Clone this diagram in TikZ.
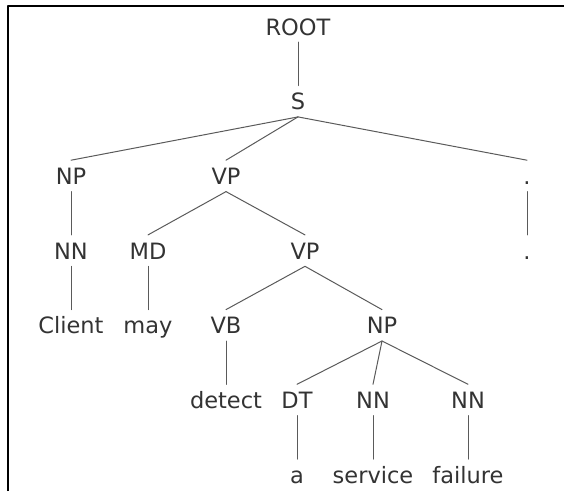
\documentclass[tikz,border=0pt]{standalone}
\usepackage{fontspec}
\setmainfont{DejaVu Sans}
\providecommand{\Ink}{333333}
\providecommand{\Twig}{5A5A5A}
\newcommand{\Step}{74.7}
\newcommand{\Row}[1]{{35+#1*\Step}}
\definecolor{ink}{HTML}{\Ink}
\definecolor{twig}{HTML}{\Twig}

\begin{document}
\begin{tikzpicture}[x=1pt,y=-1pt, line join=round, line cap=round,
  tag/.style={anchor=base, text=ink, font=\fontsize{22.5}{26}\selectfont,
    text height=17pt, text depth=0pt, inner xsep=0pt, inner ysep=7pt}]

  % ---- page and the two visible frame edges -------------------------------
  \useasboundingbox (0,0) rectangle (564,491);
  \draw[black,line width=2pt,line cap=butt] (8,491) -- (8,6) -- (564,6);

  % ---- labels, row by row -------------------------------------------------
  \node[tag] (root) at (298,\Row{0}) {ROOT};
  \node[tag] (s)    at (298,\Row{1}) {S};
  \node[tag] (np1)  at (71,\Row{2})  {NP};
  \node[tag] (vp1)  at (226,\Row{2}) {VP};
  \node[tag] (pu1)  at (527,\Row{2}) {.};
  \node[tag] (nn1)  at (71,\Row{3})  {NN};
  \node[tag] (md)   at (148,\Row{3}) {MD};
  \node[tag] (vp2)  at (305,\Row{3}) {VP};
  \node[tag] (pu2)  at (527,\Row{3}) {.};
  \node[tag] (w1)   at (71,\Row{4})  {Client};
  \node[tag] (w2)   at (148,\Row{4}) {may};
  \node[tag] (vb)   at (226,\Row{4}) {VB};
  \node[tag] (np2)  at (382,\Row{4}) {NP};
  \node[tag] (w3)   at (226,\Row{5}) {detect};
  \node[tag] (dt)   at (297,\Row{5}) {DT};
  \node[tag] (nn2)  at (373,\Row{5}) {NN};
  \node[tag] (nn3)  at (468,\Row{5}) {NN};
  \node[tag] (w4)   at (297,\Row{6}) {a};
  \node[tag] (w5)   at (373,\Row{6}) {service};
  \node[tag] (w6)   at (468,\Row{6}) {failure};

  % ---- branches -----------------------------------------------------------
  \foreach \up/\down in {root/s, s/np1, s/vp1, s/pu1, np1/nn1, vp1/md, vp1/vp2,
      pu1/pu2, nn1/w1, md/w2, vp2/vb, vp2/np2, vb/w3, np2/dt, np2/nn2, np2/nn3,
      dt/w4, nn2/w5, nn3/w6} {
    \draw[twig,line width=1pt] (\up.south) -- (\down.north);
  }

\end{tikzpicture}
\end{document}
